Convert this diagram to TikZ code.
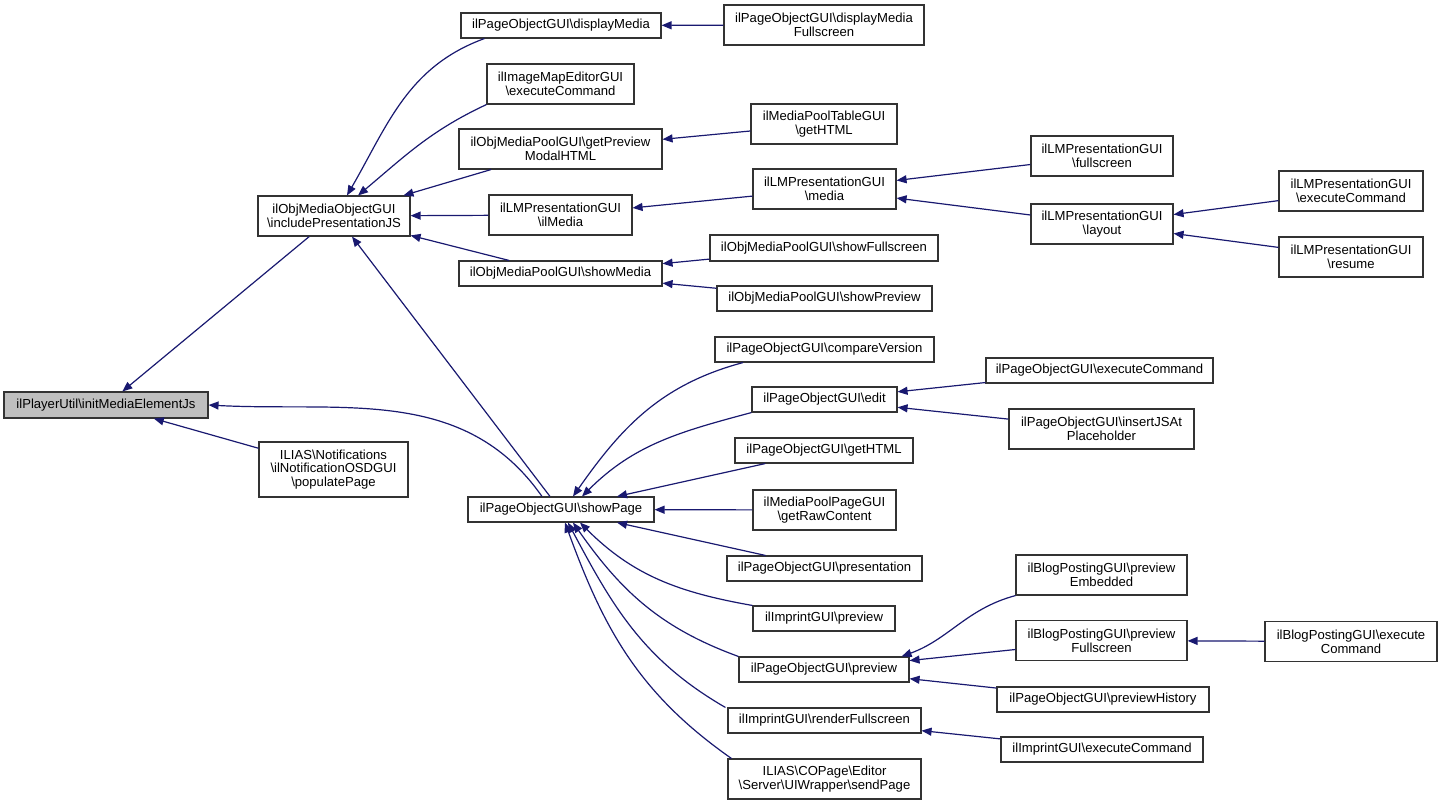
\documentclass[tikz,border=0pt]{standalone}
\usepackage{fontspec}
\setmainfont{Liberation Sans}
\usetikzlibrary{arrows.meta}
\newcommand\bsl{\textbackslash}
\definecolor{edgeblue}{HTML}{191970}
\definecolor{boxgray}{HTML}{BFBFBF}
\tikzset{
  box/.style={draw=black!80, line width=0.55pt, fill=white, rectangle, inner sep=0pt, align=center,
    font=\fontsize{6.55}{6.8}\selectfont},
  edge/.style={draw=edgeblue, line width=0.6pt, -{Triangle[length=5pt,width=4pt]}}
}
\begin{document}
\begin{tikzpicture}[x=0.5pt,y=0.5pt]
\useasboundingbox (0,0) rectangle (1443,-805);
% level 0
\node[box, fill=boxgray, minimum width=102pt, minimum height=13pt] (PU) at (106,-405) {ilPlayerUtil\bsl initMediaElementJs};
% level 1
\node[box, minimum width=76pt, minimum height=20pt] (OMO) at (334,-216) {ilObjMediaObjectGUI\\\bsl includePresentationJS};
\node[box, minimum width=74.5pt, minimum height=27.5pt] (NOT) at (333.5,-469.5) {ILIAS\bsl Notifications\\\bsl ilNotificationOSDGUI\\\bsl populatePage};
% level 2
\node[box, minimum width=93pt, minimum height=12.5pt] (SP) at (561,-509.5) {ilPageObjectGUI\bsl showPage};
\node[box, minimum width=100pt, minimum height=12.5pt] (DM) at (561,-25.5) {ilPageObjectGUI\bsl displayMedia};
\node[box, minimum width=73.5pt, minimum height=20pt] (IME) at (560.5,-84) {ilImageMapEditorGUI\\\bsl executeCommand};
\node[box, minimum width=101.5pt, minimum height=20pt] (GPM) at (560.5,-149) {ilObjMediaPoolGUI\bsl getPreview\\ModalHTML};
\node[box, minimum width=71.5pt, minimum height=20pt] (ILM) at (560.5,-215) {ilLMPresentationGUI\\\bsl ilMedia};
\node[box, minimum width=101.5pt, minimum height=12.5pt] (SM) at (560.5,-273.5) {ilObjMediaPoolGUI\bsl showMedia};
% level 3
\node[box, minimum width=100pt, minimum height=20pt] (DMF) at (824,-25) {ilPageObjectGUI\bsl displayMedia\\Fullscreen};
\node[box, minimum width=73pt, minimum height=20pt] (MPT) at (824,-124) {ilMediaPoolTableGUI\\\bsl getHTML};
\node[box, minimum width=71.5pt, minimum height=20pt] (LMM) at (824.5,-189) {ilLMPresentationGUI\\\bsl media};
\node[box, minimum width=114pt, minimum height=13pt] (SF) at (824,-248) {ilObjMediaPoolGUI\bsl showFullscreen};
\node[box, minimum width=107.5pt, minimum height=12.5pt] (SPr) at (824.5,-298.5) {ilObjMediaPoolGUI\bsl showPreview};
\node[box, minimum width=109.5pt, minimum height=12.5pt] (CV) at (824.5,-349.5) {ilPageObjectGUI\bsl compareVersion};
\node[box, minimum width=72.5pt, minimum height=12.5pt] (EDIT) at (824.5,-399.5) {ilPageObjectGUI\bsl edit};
\node[box, minimum width=89pt, minimum height=12.5pt] (GH) at (824,-450.5) {ilPageObjectGUI\bsl getHTML};
\node[box, minimum width=71.5pt, minimum height=20pt] (MPP) at (824.5,-510) {ilMediaPoolPageGUI\\\bsl getRawContent};
\node[box, minimum width=97.5pt, minimum height=12.5pt] (PRES) at (824.5,-568.5) {ilPageObjectGUI\bsl presentation};
\node[box, minimum width=71pt, minimum height=12.5pt] (IPV) at (824,-618.5) {ilImprintGUI\bsl preview};
\node[box, minimum width=85pt, minimum height=12.5pt] (PPV) at (824,-669.5) {ilPageObjectGUI\bsl preview};
\node[box, minimum width=96.5pt, minimum height=12.5pt] (RF) at (824.5,-720.5) {ilImprintGUI\bsl renderFullscreen};
\node[box, minimum width=96.5pt, minimum height=20pt] (SEND) at (824.5,-779) {ILIAS\bsl COPage\bsl Editor\\\bsl Server\bsl UIWrapper\bsl sendPage};
% level 4
\node[box, minimum width=71pt, minimum height=20pt] (FS) at (1102,-156) {ilLMPresentationGUI\\\bsl fullscreen};
\node[box, minimum width=71pt, minimum height=20pt] (LAY) at (1102,-224) {ilLMPresentationGUI\\\bsl layout};
\node[box, minimum width=113.5pt, minimum height=12.5pt] (PEC) at (1099.5,-370.5) {ilPageObjectGUI\bsl executeCommand};
\node[box, minimum width=92.5pt, minimum height=20pt] (IJS) at (1101.5,-429) {ilPageObjectGUI\bsl insertJSAt\\Placeholder};
\node[box, minimum width=85.5pt, minimum height=20pt] (BPE) at (1101.5,-575) {ilBlogPostingGUI\bsl preview\\Embedded};
\node[box, minimum width=85.5pt, minimum height=20pt] (BPF) at (1101.5,-640.5) {ilBlogPostingGUI\bsl preview\\Fullscreen};
\node[box, minimum width=106pt, minimum height=12.5pt] (PH) at (1103,-699.5) {ilPageObjectGUI\bsl previewHistory};
\node[box, minimum width=101pt, minimum height=12.5pt] (IEC) at (1102,-749.5) {ilImprintGUI\bsl executeCommand};
% level 5
\node[box, minimum width=72pt, minimum height=20pt] (LEC) at (1351,-191) {ilLMPresentationGUI\\\bsl executeCommand};
\node[box, minimum width=72pt, minimum height=20pt] (RES) at (1351,-257) {ilLMPresentationGUI\\\bsl resume};
\node[box, minimum width=86pt, minimum height=20pt] (BEC) at (1351,-641.5) {ilBlogPostingGUI\bsl execute\\Command};

% edges into PU
\draw[edge] (OMO) -- (PU);
\draw[edge] (NOT) -- (PU);
\draw[edge] ([xshift=-9.5pt]SP.north) to[out=125,in=-3] (PU.east);
% edges into OMO
\draw[edge] ([xshift=-5.5pt]SP.north) -- ([xshift=9pt]OMO.south);
\draw[edge] ([xshift=12pt]DM.south west) to[out=200,in=60] ([xshift=6.5pt]OMO.north);
\draw[edge] (IME.south west) to[out=205,in=40] ([xshift=12pt]OMO.north);
\draw[edge] (GPM) -- (OMO);
\draw[edge] (ILM) -- (OMO);
\draw[edge] (SM) -- (OMO);
% level 3 -> level 2
\draw[edge] (DMF) -- (DM);
\draw[edge] (MPT) -- (GPM);
\draw[edge] (LMM) -- (ILM);
\draw[edge] (SF) -- (SM);
\draw[edge] (SPr) -- (SM);
% into SP
\draw[edge] ([xshift=-40.75pt]CV.south) to[out=195,in=55] ([xshift=6pt]SP.north);
\draw[edge] (EDIT.south west) to[out=195,in=45] ([xshift=10.5pt]SP.north);
\draw[edge] (GH) -- ([xshift=28pt]SP.north);
\draw[edge] (MPP) -- (SP);
\draw[edge] (PRES) -- ([xshift=28pt]SP.south);
\draw[edge] (IPV.north west) to[out=170,in=-45] ([xshift=9.5pt]SP.south);
\draw[edge] (PPV.north west) to[out=160,in=-55] ([xshift=6pt]SP.south);
\draw[edge] ([xshift=-1pt]RF.north west) to[out=150,in=-62] ([xshift=3.5pt]SP.south);
\draw[edge] ([xshift=2pt]SEND.north west) to[out=145,in=-70] ([xshift=2pt]SP.south);
% level 4 -> level 3
\draw[edge] (FS) -- (LMM);
\draw[edge] (LAY) -- (LMM);
\draw[edge] (PEC) -- (EDIT);
\draw[edge] (IJS) -- (EDIT);
\draw[edge] (BPE.south west) to[out=195,in=20] ([xshift=-4pt]PPV.north east);
\draw[edge] (BPF) -- (PPV);
\draw[edge] (PH) -- (PPV);
\draw[edge] (IEC) -- (RF);
% level 5 -> level 4
\draw[edge] (LEC) -- (LAY);
\draw[edge] (RES) -- (LAY);
\draw[edge] (BEC) -- (BPF);
\end{tikzpicture}
\end{document}
